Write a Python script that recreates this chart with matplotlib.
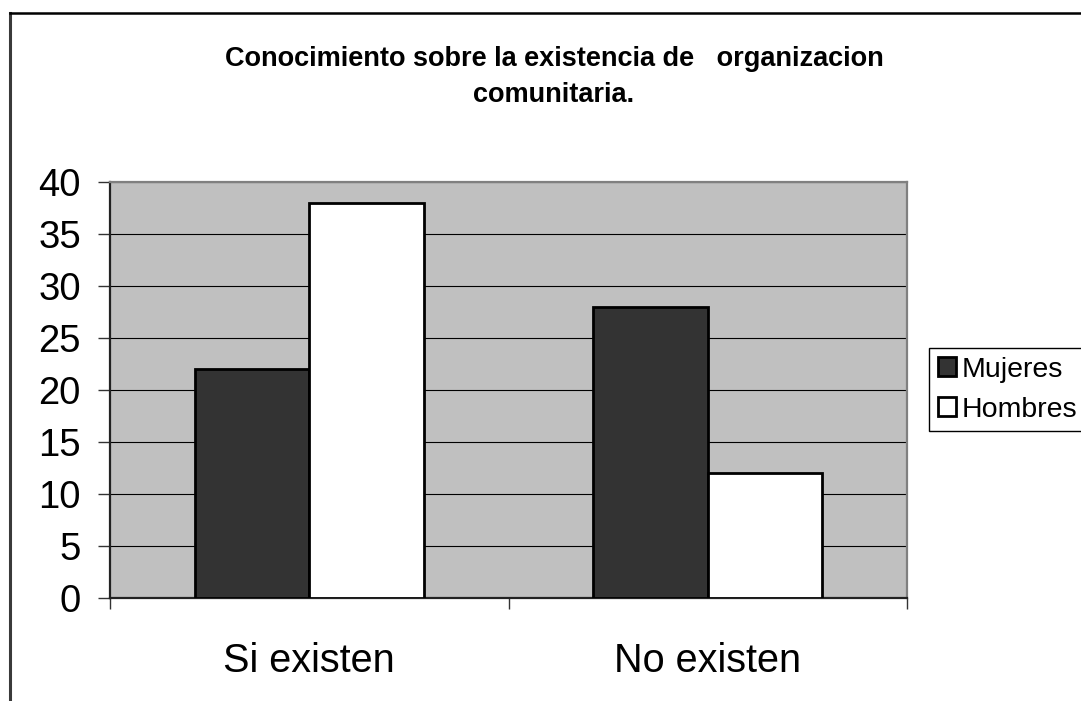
import matplotlib.pyplot as plt
from matplotlib.lines import Line2D
import numpy as np

categories = ['Si existen', 'No existen']
mujeres = [22, 28]
hombres = [38, 12]
series_names = ['Mujeres', 'Hombres']
yticks = [0, 5, 10, 15, 20, 25, 30, 35, 40]
title = 'Conocimiento sobre la existencia de   organizacion\ncomunitaria.'

plt.rcParams['font.family'] = ['Liberation Sans', 'DejaVu Sans']

W, H = 1081, 701
fig = plt.figure(figsize=(W / 100, H / 100), dpi=100)
fig.patch.set_facecolor('white')

# chart area frame (only top and left edges visible)
fig.add_artist(Line2D([10 / W, 10 / W], [0, 1 - 13 / H], transform=fig.transFigure,
                      color='#3a3a3a', lw=2.2))
fig.add_artist(Line2D([10 / W, 1], [1 - 13 / H, 1 - 13 / H], transform=fig.transFigure,
                      color='black', lw=1.8))

ax = fig.add_axes([110 / W, 1 - 598 / H, (907 - 110) / W, (598 - 182) / H])
ax.set_facecolor('#c0c0c0')

x = np.arange(len(categories)) + 0.5
width = 0.2875
ax.bar(x - width, mujeres, width, align='edge', color='#333333', edgecolor='black',
       linewidth=2, label=series_names[0], zorder=3)
ax.bar(x, hombres, width, align='edge', color='white', edgecolor='black',
       linewidth=2, label=series_names[1], zorder=3)

ax.set_xlim(0, len(categories))
ax.set_ylim(0, 40)
ax.set_yticks(yticks)
ax.yaxis.grid(True, color='black', linewidth=0.8, zorder=1)
ax.set_axisbelow(True)
ax.tick_params(axis='y', labelsize=27.5, length=9, width=1, pad=12, color='#333333')

ax.set_xticks(np.arange(len(categories) + 1))
ax.set_xticklabels([])
ax.tick_params(axis='x', which='major', length=8, width=1, color='#333333')
ax.set_xticks(x, minor=True)
ax.set_xticklabels(categories, minor=True, fontsize=28.5)
ax.tick_params(axis='x', which='minor', length=0, pad=32)

for side in ['top', 'right']:
    ax.spines[side].set_color('#808080')
    ax.spines[side].set_linewidth(1.6)
for side in ['left', 'bottom']:
    ax.spines[side].set_color('#222222')
    ax.spines[side].set_linewidth(1.6)

fig.text(554 / W, 1 - 77 / H, title, ha='center', va='center', fontsize=19.5,
         fontweight='bold', linespacing=1.45)

leg = fig.legend(loc='upper left', bbox_to_anchor=(929 / W, 1 - 348 / H),
                 borderaxespad=0, fontsize=20.5, frameon=True, fancybox=False,
                 edgecolor='black', framealpha=1, borderpad=0.3,
                 handlelength=0.65, handleheight=0.65, handletextpad=0.2,
                 labelspacing=0.5)
leg.get_frame().set_linewidth(1)

fig.savefig('out.png', dpi=100)
